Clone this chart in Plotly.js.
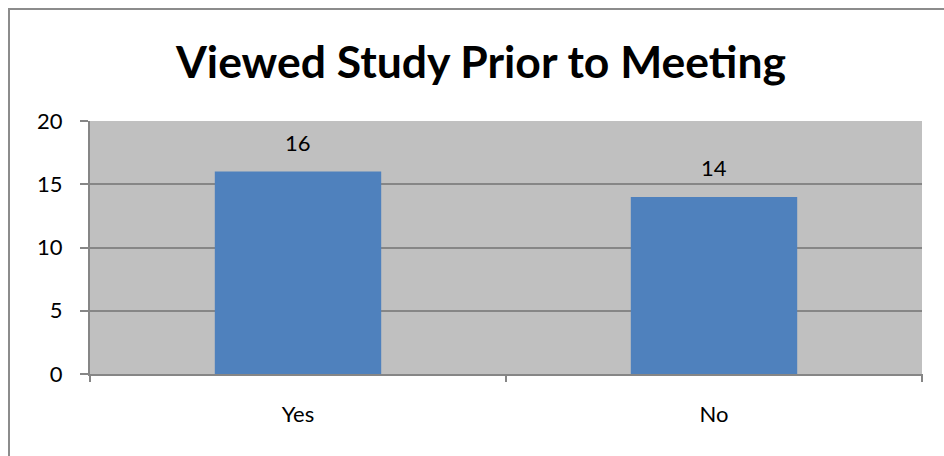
<!DOCTYPE html>
<html>
<head>
<meta charset="utf-8">
<script src="https://cdn.plot.ly/plotly-3.0.1.min.js"></script>
<style>
html,body{margin:0;padding:0;overflow:hidden;background:#fff;}
#wrap{position:relative;width:944px;height:456px;overflow:hidden;}
#frame{position:absolute;left:8px;top:8px;width:1000px;height:500px;border:2px solid #8c8c8c;box-sizing:border-box;pointer-events:none;z-index:5;}
#chart{position:absolute;left:0;top:0;width:944px;height:456px;}
</style>
</head>
<body>
<div id="wrap">
<div id="chart"></div>
<div id="frame"></div>
</div>
<script>
var categories = ["Yes", "No"];
var counts = [16, 14];
var yTicks = [0, 5, 10, 15, 20];
var chartTitle = "Viewed Study Prior to Meeting";

var font = "Lato, 'Open Sans', sans-serif";

var trace = {
  type: "bar",
  x: categories,
  y: counts,
  marker: {color: "#4F81BD", line: {width: 0}},
  hoverinfo: "x+y"
};

var annotations = categories.map(function(c, i){
  return {
    x: c, y: counts[i], xref: "x", yref: "y",
    text: String(counts[i]), showarrow: false,
    yanchor: "bottom", yshift: 14,
    font: {family: font, size: 22, color: "#000"}
  };
});

var layout = {
  width: 944, height: 456,
  margin: {l: 90, r: 22, t: 121, b: 82, pad: 0},
  paper_bgcolor: "#ffffff",
  plot_bgcolor: "#C0C0C0",
  bargap: 0.6,
  showlegend: false,
  title: {
    text: "<b>" + chartTitle + "</b>",
    x: 481/944, xref: "container", xanchor: "center",
    y: 1 - 62/456, yref: "container", yanchor: "middle",
    font: {family: font, size: 44.5, color: "#000"}
  },
  xaxis: {
    type: "category",
    showline: true, linecolor: "#868686", linewidth: 2,
    ticks: "", showgrid: false,
    tickfont: {family: font, size: 22, color: "#000"},
    ticklabelstandoff: 20
  },
  yaxis: {
    range: [0, 20],
    tickvals: yTicks,
    ticktext: yTicks.map(String),
    showline: true, linecolor: "#868686", linewidth: 2,
    ticks: "outside", ticklen: 8, tickcolor: "#868686", tickwidth: 2,
    showgrid: true, gridcolor: "#868686", gridwidth: 2,
    zeroline: false,
    tickfont: {family: font, size: 22, color: "#000"},
    ticklabelstandoff: 13
  },
  annotations: annotations,
  shapes: [0, 1, 2].map(function(k){
    return {type: "line", xref: "paper", yref: "paper", x0: k/2, x1: k/2,
      line: {color: "#868686", width: 2}, ysizemode: "pixel", yanchor: 0, y0: 0, y1: -8};
  })
};

Plotly.newPlot("chart", [trace], layout, {displayModeBar: false, staticPlot: true});
</script>
</body>
</html>
